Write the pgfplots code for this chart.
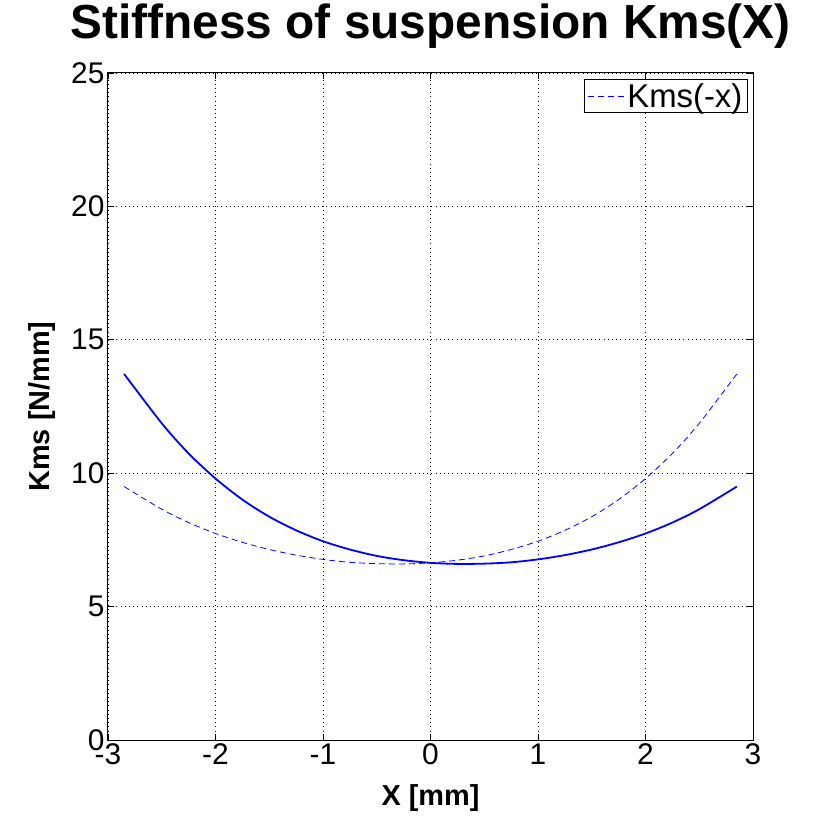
\documentclass[border=0pt]{standalone}
\usepackage{fontspec}
\setmainfont{Liberation Sans}
\usepackage{pgfplots}
\pgfplotsset{compat=1.18}

\begin{document}
\begin{tikzpicture}[x=1bp,y=1bp]
\useasboundingbox (-108,-93) rectangle (726,740);
\begin{axis}[
    at={(0,0)}, anchor=south west,
    scale only axis,
    width=645bp, height=667bp,
    xmin=-3, xmax=3,
    ymin=0, ymax=25,
    xtick={-3,-2,-1,0,1,2,3},
    ytick={0,5,10,15,20,25},
    /pgf/number format/assume math mode=true,
    ticklabel style={font=\fontsize{30}{36}\selectfont},
    major tick length=6bp,
    tick style={black, line width=0.8bp},
    axis line style={black, line width=1bp},
    grid=major,
    major grid style={black, line width=0.7bp, dash pattern=on 1bp off 3.2bp},
    title={\fontsize{48}{56}\selectfont\bfseries Stiffness of suspension Kms(X)},
    title style={at={(0.5,1.042)}, anchor=base},
    xlabel={\fontsize{29}{34}\selectfont\bfseries X [mm]},
    xlabel style={at={(0.5,-0.0975)}, anchor=base},
    ylabel={\fontsize{29}{34}\selectfont\bfseries Kms [N/mm]},
    ylabel style={at={(-0.09,0.5)}, anchor=base},
    legend style={at={(0.992,0.991)}, anchor=north east,
        draw=black, line width=1bp, inner xsep=3bp, inner ysep=2bp,
        font=\fontsize{33}{36}\selectfont,
        cells={anchor=west}},
    legend image code/.code={\draw[#1] (4bp,0bp) -- (41bp,0bp);},
]
% measured curve
\addplot[blue, line width=1.8bp, smooth, forget plot] coordinates {
(-2.85,13.72) (-2.5,11.87) (-2.25,10.74) (-2,9.80) (-1.75,9.01)
(-1.5,8.37) (-1.25,7.86) (-1,7.45) (-0.75,7.14) (-0.5,6.90)
(-0.25,6.74) (0,6.64) (0.25,6.60) (0.5,6.61) (0.75,6.66)
(1,6.77) (1.25,6.93) (1.5,7.14) (1.75,7.41) (2,7.74)
(2.25,8.15) (2.5,8.65) (2.85,9.50)
};
% mirrored curve
\addplot[blue, line width=0.8bp, dash pattern=on 6bp off 4bp, smooth] coordinates {
(-2.85,9.50) (-2.5,8.65) (-2.25,8.15) (-2,7.74) (-1.75,7.41)
(-1.5,7.14) (-1.25,6.93) (-1,6.77) (-0.75,6.66) (-0.5,6.61)
(-0.25,6.60) (0,6.64) (0.25,6.74) (0.5,6.90) (0.75,7.14)
(1,7.45) (1.25,7.86) (1.5,8.37) (1.75,9.01) (2,9.80)
(2.25,10.74) (2.5,11.87) (2.85,13.72)
};
\addlegendentry{Kms(-x)}
\end{axis}
\end{tikzpicture}
\end{document}
